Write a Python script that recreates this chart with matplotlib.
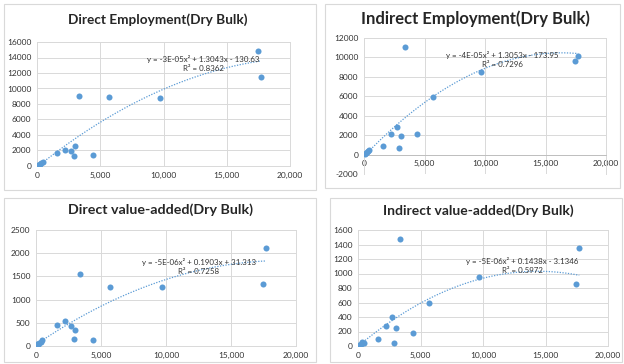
import matplotlib.pyplot as plt
import numpy as np
from matplotlib.patches import Rectangle
from matplotlib.ticker import FuncFormatter, MultipleLocator

# throughput (shared x for every panel)
x = [50, 150, 250, 350, 450, 1600, 2250, 2700, 2900, 3030, 3350, 4420, 5690, 9700, 17450, 17700]

direct_emp = [80, 20, 300, 420, 520, 1720, 2020, 1890, 1250, 2620, 9030, 1420, 8950, 8770, 14800, 11530]
indirect_emp = [30, 150, 250, 380, 450, 857, 2160, 2810, 720, 1950, 11040, 2160, 5900, 8500, 9670, 10110]
direct_va = [40, 15, 60, 90, 120, 444, 537, 437, 158, 344, 1547, 136, 1275, 1261, 1340, 2106]
indirect_va = [10, 5, 30, 50, 40, 91, 273, 405, 41, 255, 1482, 173, 595, 945, 855, 1350]

# quadratic trend coefficients (a, b, c) as printed on each chart
coef_direct_emp = [-3e-05, 1.3043, -130.63]
coef_indirect_emp = [-4e-05, 1.3053, -173.95]
coef_direct_va = [-5e-06, 0.1903, 31.313]
coef_indirect_va = [-5e-06, 0.1438, -3.1346]

eq_direct_emp = ['y = -3E-05x² + 1.3043x - 130.63', 'R² = 0.8362']
eq_indirect_emp = ['y = -4E-05x² + 1.3053x - 173.95', 'R² = 0.7296']
eq_direct_va = ['y = -5E-06x² + 0.1903x + 31.313', 'R² = 0.7258']
eq_indirect_va = ['y = -5E-06x² + 0.1438x - 3.1346', 'R² = 0.5972']

blue = '#5B9BD5'
W, H = 624, 364

plt.rcParams['font.family'] = ['Lato', 'DejaVu Sans']
fig = plt.figure(figsize=(6.24, 3.64), dpi=100)
fig.patch.set_facecolor('white')


def box(l, t, r, b):
    fig.patches.append(Rectangle((l / W, 1 - b / H), (r - l) / W, (b - t) / H,
                                 transform=fig.transFigure, fill=False,
                                 edgecolor='#D9D9D9', linewidth=0.8))


def panel(l, t, r, b, y, coef, eq, eqpos, ylim, ystep, title, tpos, tsize):
    ax = fig.add_axes([l / W, 1 - b / H, (r - l) / W, (b - t) / H])
    ax.set_xlim(0, 20000)
    ax.set_ylim(*ylim)
    ax.xaxis.set_major_locator(MultipleLocator(5000))
    ax.yaxis.set_major_locator(MultipleLocator(ystep))
    ax.xaxis.set_major_formatter(FuncFormatter(lambda v, p: f'{int(v):,}'))
    ax.yaxis.set_major_formatter(FuncFormatter(lambda v, p: f'{int(v)}'))
    ax.grid(True, color='#D9D9D9', linewidth=0.7)
    ax.set_axisbelow(True)
    for s in ax.spines.values():
        s.set_color('#D9D9D9')
        s.set_linewidth(0.7)
    if ylim[0] < 0:
        ax.spines['bottom'].set_position(('data', 0))
        ax.spines['bottom'].set_color('#BFBFBF')
        ax.axhline(ylim[0], color='#D9D9D9', linewidth=0.7)
    ax.tick_params(length=0, labelsize=6, colors='#333333', pad=4)
    ax.scatter(x, y, s=19, color=blue, zorder=3, linewidths=0)
    xs = np.linspace(min(x), max(x), 200)
    ax.plot(xs, np.polyval(coef, xs), linestyle=(0, (1, 1.2)), color=blue,
            linewidth=0.9, zorder=2)
    ax.text(eqpos[0], eqpos[1], eq[0] + '\n' + eq[1], ha='center', va='center',
            fontsize=5.7, color='#333333', linespacing=1.3, zorder=4)
    fig.text(tpos[0] / W, 1 - tpos[1] / H, title, ha='center', va='center',
             fontsize=tsize, fontweight='bold', color='#262626')
    return ax


box(4, 4, 316, 190)
box(325, 4, 620, 188)
box(4, 198, 316, 362)
box(330, 198, 622, 362)

panel(37, 42, 290, 166, direct_emp, coef_direct_emp, eq_direct_emp,
      (13150, 13200), (0, 16000), 2000,
      'Direct Employment(Dry Bulk)', (158, 20), 9.8)
panel(364, 38, 606, 174, indirect_emp, coef_indirect_emp, eq_indirect_emp,
      (11400, 9750), (-2000, 12000), 2000,
      'Indirect Employment(Dry Bulk)', (475, 19), 12)
panel(36, 230, 296, 346, direct_va, coef_direct_va, eq_direct_va,
      (12540, 1710), (0, 2500), 500,
      'Direct value-added(Dry Bulk)', (160, 210), 10.3)
panel(358, 230, 608, 346, indirect_va, coef_indirect_va, eq_indirect_va,
      (13120, 1115), (0, 1600), 200,
      'Indirect value-added(Dry Bulk)', (478, 211), 10)

fig.savefig('out.png', dpi=100)
